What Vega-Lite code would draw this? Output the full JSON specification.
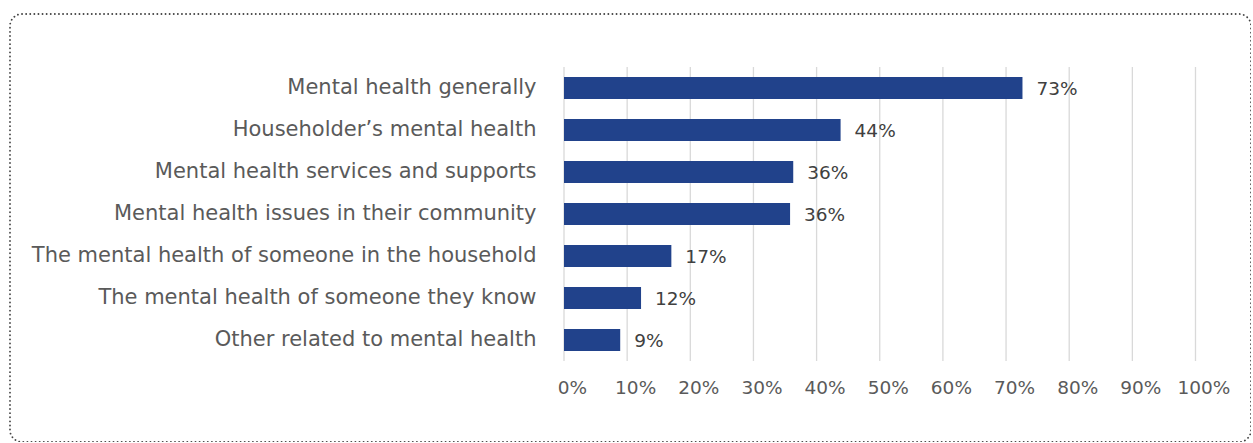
{
  "$schema": "https://vega.github.io/schema/vega-lite/v6.json",
  "width": 1241,
  "height": 428,
  "autosize": {"type": "none"},
  "padding": {"left": 10, "top": 14, "right": 0, "bottom": 0},
  "background": "white",
  "config": {
    "view": {"stroke": "#444444", "strokeWidth": 1.8, "strokeDash": [0.1, 4], "strokeCap": "round", "cornerRadius": 12},
    "font": "DejaVu Sans"
  },
  "data": {
    "values": [
      {"cat": "Mental health generally", "pct": 72.6, "label": "73%"},
      {"cat": "Householder’s mental health", "pct": 43.8, "label": "44%"},
      {"cat": "Mental health services and supports", "pct": 36.3, "label": "36%"},
      {"cat": "Mental health issues in their community", "pct": 35.8, "label": "36%"},
      {"cat": "The mental health of someone in the household", "pct": 17.0, "label": "17%"},
      {"cat": "The mental health of someone they know", "pct": 12.2, "label": "12%"},
      {"cat": "Other related to mental health", "pct": 8.9, "label": "9%"}
    ]
  },
  "encoding": {
    "y": {
      "field": "cat",
      "type": "nominal",
      "sort": null,
      "scale": {
        "domain": ["Mental health generally", "Householder’s mental health", "Mental health services and supports", "Mental health issues in their community", "The mental health of someone in the household", "The mental health of someone they know", "Other related to mental health"],
        "range": [53, 347],
        "paddingInner": 0,
        "paddingOuter": 0
      },
      "axis": {
        "orient": "left",
        "offset": -554,
        "title": null,
        "ticks": false,
        "domain": false,
        "grid": false,
        "labelPadding": 28,
        "labelFont": "DejaVu Sans",
        "labelFontSize": 21,
        "labelColor": "#5a5a5a",
        "labelLimit": 700
      }
    }
  },
  "layer": [
    {
      "data": {"values": [{"tick": 0}, {"tick": 10}, {"tick": 20}, {"tick": 30}, {"tick": 40}, {"tick": 50}, {"tick": 60}, {"tick": 70}, {"tick": 80}, {"tick": 90}, {"tick": 100}]},
      "mark": {"type": "rule", "color": "#d9d9d9", "strokeWidth": 1.3},
      "encoding": {
        "x": {"field": "tick", "type": "quantitative"},
        "y": {"datum": "Mental health generally", "type": "nominal", "bandPosition": 0},
        "y2": {"datum": "Other related to mental health", "bandPosition": 1}
      }
    },
    {
      "mark": {"type": "bar", "color": "#21428b", "height": {"band": 0.524}},
      "encoding": {
        "x": {
          "field": "pct",
          "type": "quantitative",
          "scale": {"domain": [0, 100], "range": [554, 1185.5], "nice": false},
          "axis": {
            "orient": "bottom",
            "offset": -81,
            "values": [0, 10, 20, 30, 40, 50, 60, 70, 80, 90, 100],
            "labelExpr": "datum.value + '%'",
            "title": null,
            "grid": false,
            "ticks": false,
            "domain": false,
            "labelFlush": false,
            "labelPadding": 17,
            "labelOffset": 8,
            "labelFont": "DejaVu Sans",
            "labelFontSize": 18.5,
            "labelColor": "#5a5a5a"
          }
        }
      }
    },
    {
      "mark": {"type": "text", "align": "left", "baseline": "middle", "dx": 14, "dy": 1, "fontSize": 18.5, "font": "DejaVu Sans", "color": "#404040"},
      "encoding": {
        "x": {"field": "pct", "type": "quantitative"},
        "text": {"field": "label"}
      }
    }
  ]
}
